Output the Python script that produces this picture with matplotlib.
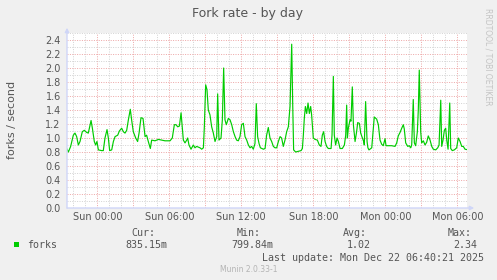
import numpy as np
import matplotlib
matplotlib.use("Agg")
from matplotlib import pyplot as plt
from matplotlib.patches import Rectangle

# hours relative to Sun 00:00, fork rate per second (5 min samples)
hours = [
    -2.55, -2.41, -2.22, -2.00, -1.86, -1.72, -1.58, -1.44, -1.25, -1.08, -0.89, -0.75,
    -0.52, -0.41, -0.25, -0.14, -0.03, 0.09, 0.36, 0.50, 0.64, 0.81, 0.92, 1.03,
    1.20, 1.34, 1.48, 1.70, 1.84, 2.03, 2.17, 2.31, 2.45, 2.59, 2.75, 2.86,
    3.00, 3.20, 3.36, 3.48, 3.64, 3.81, 3.98, 4.11, 4.25, 4.42, 4.53, 4.81,
    5.09, 5.36, 5.64, 5.92, 6.06, 6.25, 6.42, 6.56, 6.70, 6.84, 6.98, 7.09,
    7.17, 7.31, 7.45, 7.53, 7.64, 7.81, 8.00, 8.14, 8.28, 8.42, 8.56, 8.70,
    8.84, 8.92, 9.03, 9.14, 9.25, 9.39, 9.53, 9.67, 9.81, 9.95, 10.03, 10.14,
    10.31, 10.42, 10.53, 10.64, 10.75, 10.92, 11.06, 11.20, 11.34, 11.48, 11.61, 11.75,
    11.89, 12.03, 12.17, 12.31, 12.45, 12.59, 12.73, 12.86, 13.00, 13.14, 13.25, 13.36,
    13.48, 13.59, 13.84, 13.98, 14.11, 14.25, 14.39, 14.53, 14.67, 14.81, 14.95, 15.09,
    15.23, 15.36, 15.50, 15.64, 15.78, 15.92, 16.06, 16.20, 16.28, 16.36, 16.53, 16.75,
    16.98, 17.09, 17.17, 17.25, 17.34, 17.45, 17.56, 17.67, 17.78, 17.86, 18.00, 18.14,
    18.34, 18.50, 18.64, 18.75, 18.86, 18.98, 19.11, 19.25, 19.48, 19.56, 19.67, 19.75,
    19.86, 19.98, 20.09, 20.23, 20.42, 20.59, 20.70, 20.78, 20.84, 20.92, 21.06, 21.14,
    21.25, 21.34, 21.48, 21.61, 21.70, 21.84, 21.95, 22.09, 22.20, 22.25, 22.36, 22.48,
    22.55, 22.64, 22.87, 23.00, 23.08, 23.28, 23.42, 23.56, 23.70, 23.83, 23.98, 24.06,
    24.25, 24.53, 24.81, 24.95, 25.08, 25.23, 25.37, 25.50, 25.58, 25.70, 25.87, 26.00,
    26.12, 26.20, 26.33, 26.42, 26.53, 26.67, 26.75, 26.83, 26.95, 27.03, 27.17, 27.31,
    27.45, 27.58, 27.73, 27.87, 28.00, 28.20, 28.37, 28.48, 28.62, 28.70, 28.81, 28.92,
    29.03, 29.12, 29.23, 29.37, 29.45, 29.58, 29.75, 29.95, 30.08, 30.23, 30.37, 30.50,
    30.64, 30.78,
]
forks = [
    0.85, 0.80, 0.88, 1.04, 1.07, 1.02, 0.90, 0.95, 1.09, 1.11, 1.08, 1.07,
    1.25, 1.14, 0.95, 0.90, 0.95, 0.83, 0.82, 0.82, 1.00, 1.12, 1.00, 0.82,
    0.83, 0.95, 1.02, 1.04, 1.10, 1.14, 1.09, 1.07, 1.11, 1.26, 1.41, 1.26,
    1.09, 1.00, 0.95, 1.07, 1.29, 1.28, 1.02, 1.04, 0.95, 0.85, 0.97, 0.96,
    0.98, 0.97, 0.96, 0.96, 0.96, 1.00, 1.19, 1.19, 1.16, 1.17, 1.36, 1.14,
    0.97, 0.93, 0.97, 1.00, 0.90, 0.84, 0.90, 0.86, 0.88, 0.87, 0.86, 0.84,
    0.86, 1.16, 1.76, 1.69, 1.40, 1.33, 1.16, 1.07, 0.95, 1.02, 1.63, 0.97,
    1.00, 1.26, 2.00, 1.26, 1.19, 1.28, 1.26, 1.19, 1.09, 1.02, 0.97, 0.96,
    1.02, 1.19, 1.21, 1.02, 0.97, 0.90, 0.86, 0.88, 0.84, 0.92, 1.49, 1.02,
    0.92, 0.86, 0.84, 0.85, 1.04, 1.15, 1.00, 0.95, 0.88, 0.86, 0.86, 0.95,
    1.02, 1.00, 0.88, 0.97, 1.09, 1.16, 1.45, 2.34, 1.52, 0.83, 0.80, 0.81,
    0.82, 0.85, 1.04, 1.28, 1.45, 1.35, 1.50, 1.35, 1.45, 1.33, 1.00, 0.98,
    0.97, 0.90, 0.88, 1.04, 1.09, 0.95, 0.88, 0.85, 0.85, 1.04, 1.88, 1.04,
    0.90, 1.00, 0.95, 0.85, 0.85, 0.90, 1.04, 1.47, 1.00, 1.14, 1.26, 1.24,
    1.73, 1.19, 0.95, 1.09, 1.22, 1.21, 1.07, 1.00, 0.95, 0.90, 1.52, 0.95,
    0.86, 0.83, 0.86, 1.14, 1.30, 1.27, 1.19, 0.97, 0.91, 0.89, 0.99, 0.89,
    0.89, 0.89, 0.88, 0.93, 1.03, 1.08, 1.14, 1.19, 1.13, 0.93, 0.88, 0.89,
    0.86, 0.90, 1.55, 0.93, 0.89, 1.09, 1.40, 1.97, 1.09, 0.93, 0.96, 0.90,
    0.94, 1.03, 0.97, 0.88, 0.84, 0.83, 0.86, 0.90, 1.54, 0.88, 0.97, 1.11,
    1.14, 0.97, 0.84, 1.50, 0.85, 0.82, 0.83, 0.86, 1.00, 0.95, 0.88, 0.88,
    0.84, 0.835,
]

tick_hours = [0, 6, 12, 18, 24, 30]
tick_labels = ["Sun 00:00", "Sun 06:00", "Sun 12:00", "Sun 18:00", "Mon 00:00", "Mon 06:00"]
y_ticks = [0.0, 0.2, 0.4, 0.6, 0.8, 1.0, 1.2, 1.4, 1.6, 1.8, 2.0, 2.2, 2.4]

legend_name = "forks"
stat_names = ["Cur:", "Min:", "Avg:", "Max:"]
stat_values = ["835.15m", "799.84m", "1.02", "2.34"]

W, H = 497, 280
BG = "#f0f0f0"
FONT = "#555555"
GREEN = "#00cc00"
AXIS = "#cfd6f8"


def px(x, y):
    # pixel position -> figure fraction
    return x / W, 1 - y / H


fig = plt.figure(figsize=(W / 100, H / 100), dpi=100, facecolor=BG)
ax = fig.add_axes([67 / W, 1 - 208 / H, 400 / W, 175 / H])
ax.set_facecolor("white")

ax.set_xlim(-2.525, 30.808)
ax.set_ylim(0, 2.5)

# grid: gray every hour / 0.1, red every 3 hours / 0.2
dot = (0, (1, 1.4))
for h in range(-2, 31):
    c = "#eeaaaa" if h % 3 == 0 else "#d4d4d4"
    ax.axvline(h, color=c, lw=0.72, ls=dot, zorder=1)
for k in range(1, 26):
    c = "#eeaaaa" if k % 2 == 0 else "#d4d4d4"
    ax.axhline(k / 10, color=c, lw=0.72, ls=dot, zorder=1)

ax.plot(hours, forks, color=GREEN, lw=0.85, zorder=3)

ax.set_xticks(tick_hours)
ax.set_xticklabels(tick_labels)
ax.set_yticks(y_ticks)
ax.set_yticklabels([f"{v:.1f}" for v in y_ticks])
ax.tick_params(axis="x", length=0, pad=3.2, labelsize=7, labelcolor=FONT)
ax.tick_params(axis="y", length=0, pad=4.5, labelsize=7, labelcolor=FONT)
for s in ax.spines.values():
    s.set_visible(False)

# munin style axes with arrows
ax.annotate("", xy=(1.018, 0), xytext=(0, 0), xycoords="axes fraction",
            arrowprops=dict(arrowstyle="-|>", color=AXIS, lw=1, mutation_scale=6,
                            shrinkA=0, shrinkB=0), annotation_clip=False)
ax.annotate("", xy=(0, 1.03), xytext=(0, 0), xycoords="axes fraction",
            arrowprops=dict(arrowstyle="-|>", color=AXIS, lw=1, mutation_scale=6,
                            shrinkA=0, shrinkB=0), annotation_clip=False)

fig.text(*px(248, 14), "Fork rate - by day", ha="center", va="center",
         fontsize=9, color=FONT)
fig.text(*px(12, 120), "forks / second", rotation=90, ha="center", va="center",
         fontsize=8, color=FONT)
fig.text(*px(488, 57), "RRDTOOL / TOBI OETIKER", rotation=270, ha="center",
         va="center", fontsize=5.5, color="#c4c4c4")

# legend
mono = dict(family="DejaVu Sans Mono", fontsize=7.2, color=FONT, va="center")
fig.patches.append(Rectangle(px(14, 247), 5 / W, 5 / H, transform=fig.transFigure,
                             facecolor=GREEN, edgecolor="none"))
fig.text(*px(27, 245), legend_name, **mono)
name_x = [131.7, 237, 342.7, 447.3]
val_x = [125.3, 231.7, 346.6, 453.3]
for nx, vx, n, v in zip(name_x, val_x, stat_names, stat_values):
    fig.text(*px(nx, 233.3), n, **mono)
    fig.text(*px(vx, 245), v, **mono)
fig.text(*px(261.7, 257.7), "Last update: Mon Dec 22 06:40:21 2025", **mono)
fig.text(*px(248.3, 270), "Munin 2.0.33-1", ha="center", va="center",
         fontsize=5.5, color="#b4b4b4")

fig.savefig("out.png", dpi=100, facecolor=BG)
